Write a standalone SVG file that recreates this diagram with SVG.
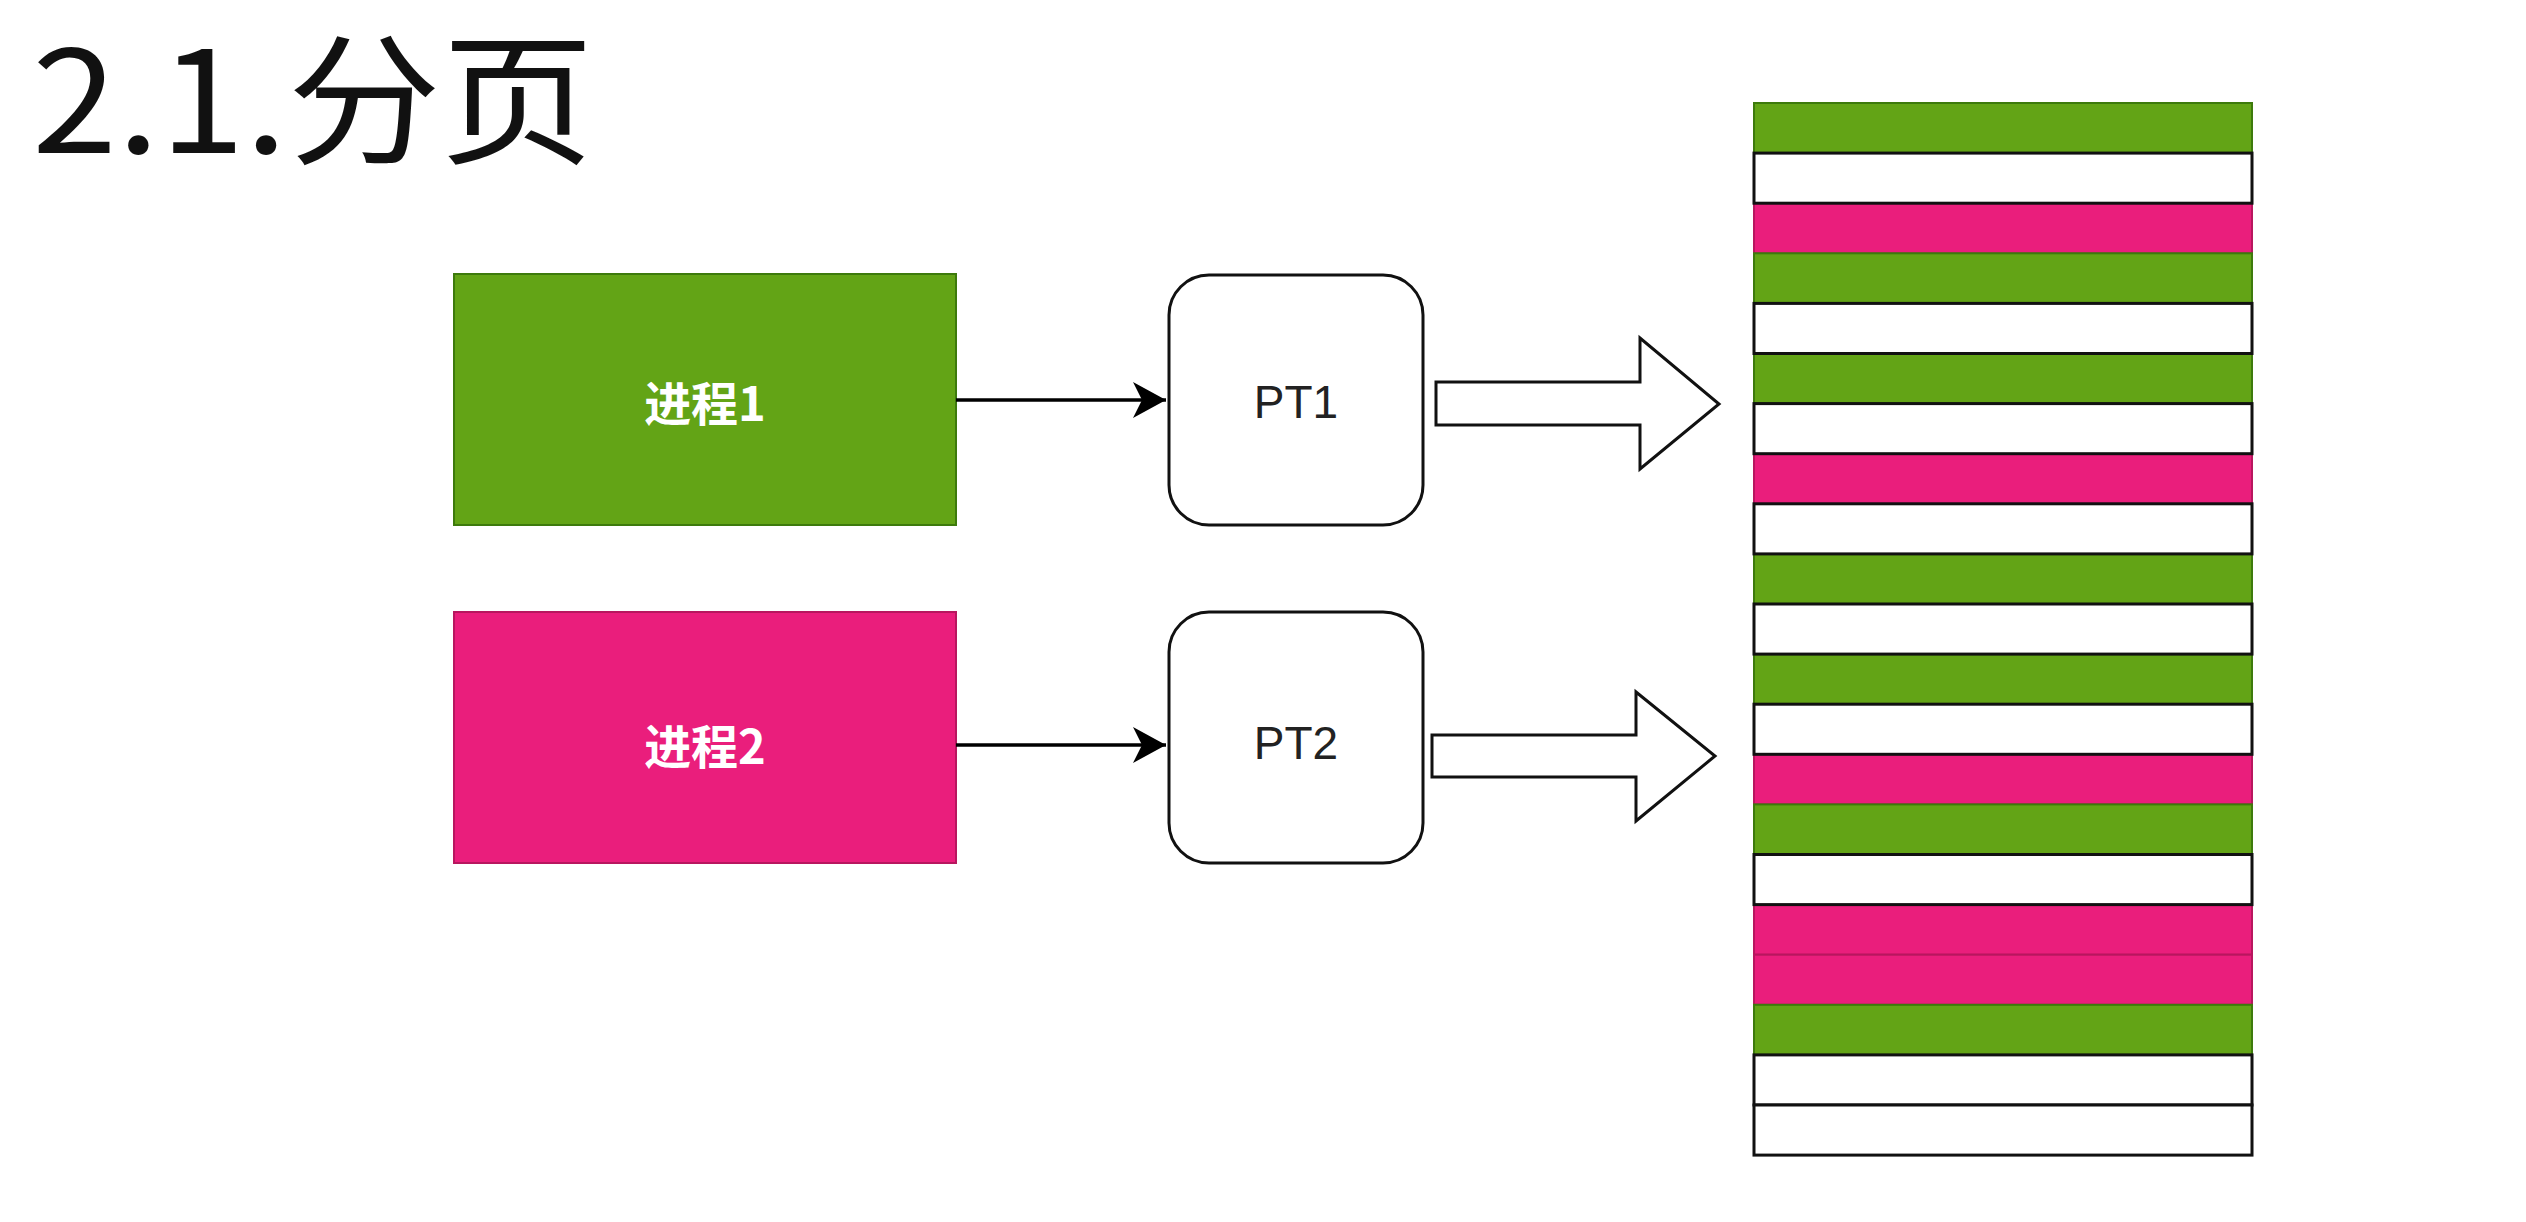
<svg xmlns="http://www.w3.org/2000/svg" width="2526" height="1222" viewBox="0 0 2526 1222">
<style>
.title{font-family:"Noto Sans CJK SC","Liberation Sans",sans-serif;font-weight:400;font-size:142px;fill:#111}
.ptext{font-family:"Noto Sans CJK SC","Liberation Sans",sans-serif;font-weight:700;font-size:47px;fill:#fff;text-anchor:middle;dominant-baseline:central}
.pt{fill:#fff;stroke:#111;stroke-width:3}
.ptl{font-family:"Liberation Sans",Arial,sans-serif;font-size:46px;fill:#222;text-anchor:middle}
.big{fill:#fff;stroke:#111;stroke-width:3;stroke-linejoin:miter}
.conn{stroke:#000;stroke-width:3.5;fill:none}
.g{fill:#63a416;stroke:#3d7a0c;stroke-width:2}
.p{fill:#ea1e7c;stroke:#b8165f;stroke-width:2}
.w{fill:#fff;stroke:#111;stroke-width:3}
</style>
<defs>
<marker id="ah" markerUnits="userSpaceOnUse" markerWidth="36" markerHeight="40" refX="33" refY="18" orient="auto">
<path d="M0,0 L33,18 L0,36 L9,18 Z" fill="#000"/>
</marker>
</defs>
<rect width="2526" height="1222" fill="#fff"/>
<text class="title" transform="translate(32,153) scale(1.08,1)" x="0" y="0">2.1.分页</text>
<g id="proc1">
<rect x="454" y="274" width="502" height="251" fill="#63a416" stroke="#3d7a0c" stroke-width="2"/>
<text class="ptext" x="705" y="400">进程1</text>
</g>
<g id="proc2">
<rect x="454" y="612" width="502" height="251" fill="#ea1e7c" stroke="#b8165f" stroke-width="2"/>
<text class="ptext" x="705" y="743">进程2</text>
</g>
<g id="pt1">
<rect class="pt" x="1169" y="275" width="254" height="250" rx="40" ry="40"/>
<text class="ptl" x="1296" y="418">PT1</text>
</g>
<g id="pt2">
<rect class="pt" x="1169" y="612" width="254" height="251" rx="40" ry="40"/>
<text class="ptl" x="1296" y="759">PT2</text>
</g>
<g id="connectors">
<line class="conn" x1="956" y1="400" x2="1166" y2="400" marker-end="url(#ah)"/>
<line class="conn" x1="956" y1="745" x2="1166" y2="745" marker-end="url(#ah)"/>
<polygon class="big" points="1436,382 1640,382 1640,338 1719,404 1640,469 1640,425 1436,425"/>
<polygon class="big" points="1432,735 1636,735 1636,692 1715,756 1636,821 1636,777 1432,777"/>
</g>
<g id="memory">
<rect class="g" x="1754" y="103" width="498" height="50.1"/>
<rect class="p" x="1754" y="203.2" width="498" height="50.1"/>
<rect class="g" x="1754" y="253.3" width="498" height="50.1"/>
<rect class="g" x="1754" y="353.5" width="498" height="50.1"/>
<rect class="p" x="1754" y="453.7" width="498" height="50.1"/>
<rect class="g" x="1754" y="553.9" width="498" height="50.1"/>
<rect class="g" x="1754" y="654.1" width="498" height="50.1"/>
<rect class="p" x="1754" y="754.3" width="498" height="50.1"/>
<rect class="g" x="1754" y="804.4" width="498" height="50.1"/>
<rect class="p" x="1754" y="904.6" width="498" height="50.1"/>
<rect class="p" x="1754" y="954.7" width="498" height="50.1"/>
<rect class="g" x="1754" y="1004.8" width="498" height="50.1"/>
<rect class="w" x="1754" y="153.1" width="498" height="50.1"/>
<rect class="w" x="1754" y="303.4" width="498" height="50.1"/>
<rect class="w" x="1754" y="403.6" width="498" height="50.1"/>
<rect class="w" x="1754" y="503.8" width="498" height="50.1"/>
<rect class="w" x="1754" y="604" width="498" height="50.1"/>
<rect class="w" x="1754" y="704.2" width="498" height="50.1"/>
<rect class="w" x="1754" y="854.5" width="498" height="50.1"/>
<rect class="w" x="1754" y="1054.9" width="498" height="50.1"/>
<rect class="w" x="1754" y="1105" width="498" height="50.1"/>
</g>
</svg>
